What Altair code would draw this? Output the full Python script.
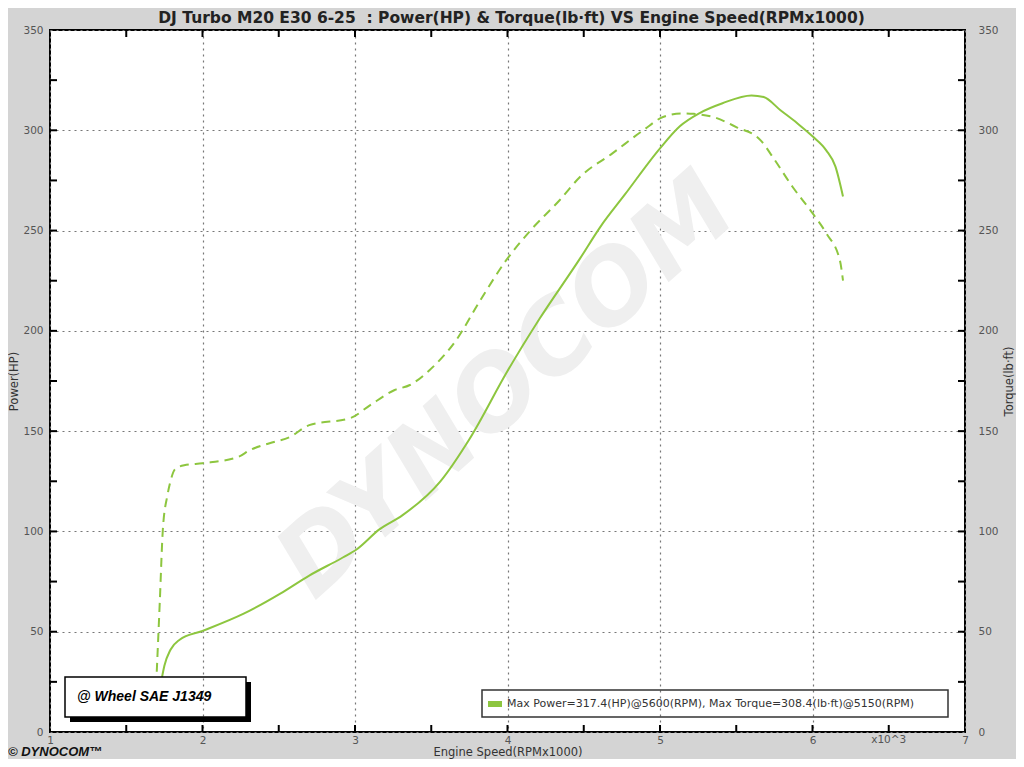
import altair as alt
import pandas as pd

# ---------------- data ----------------
power_rpm = [1.735, 1.75, 1.79, 1.85, 2.0, 2.27, 2.51, 2.70, 2.92, 3.01, 3.16, 3.31, 3.56, 3.75,
             4.0, 4.21, 4.475, 4.61, 4.77, 5.0, 5.13, 5.26, 5.41, 5.6, 5.68, 5.79, 5.9, 6.0,
             6.09, 6.15, 6.2]
power_hp = [27.5, 33, 41, 46, 50.4, 59, 69, 78, 87, 91, 101, 108, 125, 146,
            180, 206, 236, 252, 268, 291, 302, 308.6, 313.5, 317.4, 316.6, 310, 303.5, 297,
            290, 282, 267]

torque_rpm = [1.70, 1.72, 1.74, 1.77, 1.79, 1.82, 1.88, 2.0, 2.23, 2.31, 2.44, 2.57, 2.7, 2.97,
              3.1, 3.26, 3.36, 3.49, 3.66, 3.82, 3.98, 4.15, 4.34, 4.475, 4.69, 4.89, 5.02,
              5.15, 5.22, 5.35, 5.5, 5.66, 5.74, 5.87, 6.0, 6.09, 6.18, 6.2]
torque_lbft = [30, 65, 101, 118, 125, 131, 133, 134, 137, 140.5, 144, 147, 153, 156.5,
               163, 170.5, 173, 180.5, 195, 215, 234, 250, 265, 276.7, 288.6, 300, 306.6,
               308.4, 308.2, 306.6, 301.6, 295, 286.6, 271.7, 258.7, 248.7, 235, 225]

x_label_values = [1, 2, 3, 4, 5, 6, 7]
y_label_values = [0, 50, 100, 150, 200, 250, 300, 350]
x_tick_values = [1.5, 2, 2.5, 3, 3.5, 4, 4.5, 5, 5.5, 6, 6.5]
y_tick_values = [25, 50, 75, 100, 125, 150, 175, 200, 225, 250, 275, 300, 325]

title_text = "DJ Turbo M20 E30 6-25\u00a0 : Power(HP) & Torque(lb\u00b7ft) VS Engine Speed(RPMx1000)"
legend_text = "Max Power=317.4(HP)@5600(RPM), Max Torque=308.4(lb\u00b7ft)@5150(RPM)"
wheel_text = "@ Wheel SAE J1349"
logo_text = "\u00a9 DYNOCOM\u2122"
watermark_text = "DYNOCOM"
x_unit_text = "x10^3"

# ---------------- styling ----------------
GREEN = "#8dc63f"
W, H = 915, 702
FONT = "DejaVu Sans"

xscale = alt.Scale(domain=[1, 7], nice=False, zero=False)
yscale = alt.Scale(domain=[0, 350], nice=False)

X_AXIS = alt.Axis(
    values=x_label_values, grid=True, gridDash=[2, 4], gridColor="#777777", gridWidth=1.2,
    ticks=False, domain=False, labelPadding=3, labelFontSize=10.5, labelColor="#555555",
    labelFont=FONT, labelFlush=False, labelOverlap=False,
    title="Engine Speed(RPMx1000)", titleFontSize=11.5, titleFont=FONT,
    titleFontWeight="normal", titleColor="#333333", titleY=20, titleBaseline="middle")
Y_AXIS = alt.Axis(
    values=y_label_values, grid=True, gridDash=[2, 4], gridColor="#777777", gridWidth=1.2,
    ticks=False, domain=False, labelPadding=7, labelFontSize=10.5, labelColor="#555555",
    labelFont=FONT, labelFlush=False, labelOverlap=False,
    title="Power(HP)", titleFontSize=11.5, titleFont=FONT, titleFontWeight="normal",
    titleColor="#333333", titleX=-36, titleY=H / 2, titleAngle=270,
    titleAlign="center", titleBaseline="middle")

power_df = pd.DataFrame({"rpm": power_rpm, "hp": power_hp})
torque_df = pd.DataFrame({"rpm": torque_rpm, "tq": torque_lbft})
xt_df = pd.DataFrame({"v": x_tick_values})
yt_df = pd.DataFrame({"v": y_tick_values})
one = pd.DataFrame({"d": [0]})

watermark = alt.Chart(pd.DataFrame({"x": [4.0], "y": [172], "t": [watermark_text]})).mark_text(
    font=FONT, fontWeight="bold", fontStyle="italic", fontSize=100, angle=318,
    color="#efefef", align="center", baseline="middle"
).encode(
    x=alt.X("x:Q", scale=xscale, axis=X_AXIS),
    y=alt.Y("y:Q", scale=yscale, axis=Y_AXIS),
    text="t:N",
)

tick_style = dict(color="black", strokeWidth=2)
xt_bottom = alt.Chart(xt_df).mark_rule(**tick_style).encode(
    x=alt.X("v:Q", scale=xscale, axis=X_AXIS), y=alt.value(H), y2=alt.value(H - 7))
xt_top = alt.Chart(xt_df).mark_rule(**tick_style).encode(
    x=alt.X("v:Q", scale=xscale, axis=X_AXIS), y=alt.value(0), y2=alt.value(7))
yt_left = alt.Chart(yt_df).mark_rule(**tick_style).encode(
    y=alt.Y("v:Q", scale=yscale, axis=Y_AXIS), x=alt.value(0), x2=alt.value(7))
yt_right = alt.Chart(yt_df).mark_rule(**tick_style).encode(
    y=alt.Y("v:Q", scale=yscale, axis=Y_AXIS), x=alt.value(W - 7), x2=alt.value(W))

power_line = alt.Chart(power_df).mark_line(color=GREEN, strokeWidth=2, interpolate="monotone").encode(
    x=alt.X("rpm:Q", scale=xscale, axis=X_AXIS),
    y=alt.Y("hp:Q", scale=yscale, axis=Y_AXIS),
)

# "@ Wheel SAE J1349" box with shadow
shadow_bottom = alt.Chart(one).mark_rect(color="black").encode(
    x=alt.value(20), x2=alt.value(201), y=alt.value(687), y2=alt.value(692))
shadow_right = alt.Chart(one).mark_rect(color="black").encode(
    x=alt.value(196), x2=alt.value(201), y=alt.value(652), y2=alt.value(692))
wheel_box = alt.Chart(one).mark_rect(fill="white", fillOpacity=0.0, stroke="black", strokeWidth=1.5).encode(
    x=alt.value(15), x2=alt.value(196), y=alt.value(647), y2=alt.value(687))
wheel_label = alt.Chart(pd.DataFrame({"t": [wheel_text]})).mark_text(
    font="Liberation Sans", fontWeight="bold", fontStyle="italic", fontSize=14,
    color="black", align="left", baseline="middle"
).encode(x=alt.value(27), y=alt.value(667), text="t:N")

# legend box
legend_box = alt.Chart(one).mark_rect(fillOpacity=0.0, stroke="#333333", strokeWidth=1.5).encode(
    x=alt.value(432), x2=alt.value(898), y=alt.value(660), y2=alt.value(687))
legend_swatch = alt.Chart(one).mark_rect(color=GREEN).encode(
    x=alt.value(438), x2=alt.value(452), y=alt.value(671), y2=alt.value(677))
legend_label = alt.Chart(pd.DataFrame({"t": [legend_text]})).mark_text(
    font=FONT, fontSize=11, color="#333333", align="left", baseline="middle"
).encode(x=alt.value(457), y=alt.value(673.5), text="t:N")

x_unit = alt.Chart(pd.DataFrame({"x": [6.5], "t": [x_unit_text]})).mark_text(
    font=FONT, fontSize=10.5, color="#555555", align="center", baseline="top"
).encode(x=alt.X("x:Q", scale=xscale, axis=X_AXIS), y=alt.value(H + 3), text="t:N")

title_mark = alt.Chart(pd.DataFrame({"t": [title_text]})).mark_text(
    font=FONT, fontSize=15.5, fontWeight="bold", color="#222222", align="center", baseline="middle"
).encode(x=alt.value(W / 2 + 4), y=alt.value(-12), text="t:N")

logo = alt.Chart(pd.DataFrame({"t": [logo_text]})).mark_text(
    font="Liberation Sans", fontSize=13, fontWeight="bold", fontStyle="italic",
    color="#111111", align="left", baseline="middle"
).encode(x=alt.value(-42), y=alt.value(722), text="t:N")

power_group = alt.layer(
    watermark, xt_bottom, xt_top, yt_left, yt_right, power_line,
    shadow_bottom, shadow_right, wheel_box, wheel_label,
    legend_box, legend_swatch, legend_label, x_unit, title_mark, logo,
)

torque_line = alt.Chart(torque_df).mark_line(
    color=GREEN, strokeWidth=2, strokeDash=[9, 6], interpolate="monotone"
).encode(
    x=alt.X("rpm:Q", scale=xscale, axis=X_AXIS),
    y=alt.Y("tq:Q", scale=yscale, axis=alt.Axis(
        orient="right", values=y_label_values, grid=False, ticks=False, domain=False,
        labelPadding=13, labelFontSize=10.5, labelColor="#555555", labelFont=FONT,
        labelFlush=False, labelOverlap=False,
        title="Torque(lb\u00b7ft)", titleFontSize=11.5, titleFont=FONT, titleFontWeight="normal",
        titleColor="#333333", titleX=44, titleY=H / 2, titleAngle=270,
        titleAlign="center", titleBaseline="middle")),
)

chart = alt.layer(power_group, torque_line).resolve_scale(y="independent").properties(
    width=W, height=H,
    padding={"left": 42, "top": 22, "right": 51, "bottom": 27},
    autosize=alt.AutoSizeParams(type="none"),
    background="#d4d4d4",
).configure_view(fill="white", stroke="black", strokeWidth=2)

chart.save("out.html", embed_options={"renderer": "svg", "actions": False})
